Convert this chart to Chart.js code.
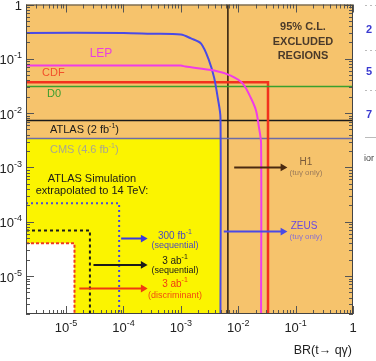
<!DOCTYPE html>
<html lang="en">
<head>
<meta charset="UTF-8">
<title>BR(t→qγ) limits</title>
<script src="https://cdn.jsdelivr.net/npm/chart.js@4.4.0/dist/chart.umd.js"></script>
<style>
  html, body { margin: 0; padding: 0; background: #fff; }
  #wrap { position: relative; width: 376px; height: 361px; }
</style>
</head>
<body>
<div id="wrap"><canvas id="limitChart"></canvas></div>
<script>
// axis ranges and labelled decades
const xRange = [2e-6, 1];
const yRange = [2e-6, 1];
const xDecades = [-5, -4, -3, -2, -1, 0];
const yDecades = [-5, -4, -3, -2, -1, 0];

// existing 95% CL limits, [BR(t->qgamma) x, y]
const lepBlue = [[2e-6, 0.30], [1e-4, 0.30], [3e-4, 0.29], [1e-3, 0.28], [1.5e-3, 0.237], [2.25e-3, 0.19],
                 [3.1e-3, 0.093], [3.8e-3, 0.045], [4.4e-3, 0.019], [4.9e-3, 0.0083], [4.9e-3, 2e-6]];
const lepMagenta = [[2e-6, 0.075], [1e-3, 0.075], [1.2e-3, 0.072], [3.8e-3, 0.061], [7.4e-3, 0.049], [0.012, 0.035],
                    [0.0166, 0.019], [0.0204, 0.0112], [0.023, 0.0054], [0.025, 0.0028], [0.025, 2e-6]];
const cdf = [[2e-6, 0.037], [0.033, 0.037], [0.033, 2e-6]];
const d0 = [[2e-6, 0.031], [1, 0.031]];
const atlas2fb = [[2e-6, 0.0073], [1, 0.0073]];
const cms46fb = [[2e-6, 0.0034], [1, 0.0034]];
const hera = [[0.0066, 2e-6], [0.0066, 1]];

// still allowed region (yellow) and 14 TeV projections
const allowed = [[2e-6, 0.0034], [4.9e-3, 0.0034], [4.9e-3, 2e-6]];
const proj300fbSeq = [[2e-6, 2.2e-4], [8.4e-5, 2.2e-4], [8.4e-5, 2e-6]];
const proj3abSeq = [[2e-6, 6.9e-5], [2.6e-5, 6.9e-5], [2.6e-5, 2e-6]];
const proj3abDisc = [[2e-6, 4.0e-5], [1.4e-5, 4.0e-5], [1.4e-5, 2e-6]];

// arrows
const arrowH1 = [[8.5e-3, 1e-3], [0.06, 1e-3]];
const arrowZeus = [[5.6e-3, 6.6e-5], [0.06, 6.6e-5]];
const arrow300fb = [[9.1e-5, 4.9e-5], [2.2e-4, 4.9e-5]];
const arrow3abSeq = [[3.0e-5, 1.6e-5], [2.2e-4, 1.6e-5]];
const arrow3abDisc = [[1.7e-5, 5.9e-6], [2.2e-4, 5.9e-6]];

const pts = arr => arr.map(p => ({ x: p[0], y: p[1] }));

function line(data, color, width, extra) {
    return Object.assign({
        data: pts(data), showLine: true, borderColor: color, borderWidth: width,
        pointRadius: 0, fill: false, tension: 0
    }, extra || {});
}

function arrow(data, color) {
    return line(data, color, 2, {
        pointRadius: [0, 4.5], pointStyle: 'triangle', rotation: 90,
        pointBackgroundColor: color, pointBorderColor: color, pointBorderWidth: 0, order: 1
    });
}

const FONT = '"Liberation Sans", Arial, sans-serif';

// text with optional superscript parts
function rich(ctx, parts, x, y, opt) {
    const size = opt.size, weight = opt.weight || '';
    const big = `${weight} ${size}px ${FONT}`;
    const small = `${weight} ${Math.round(size * 0.68)}px ${FONT}`;
    ctx.textBaseline = 'middle';
    ctx.textAlign = 'left';
    ctx.fillStyle = opt.color;
    let w = 0;
    parts.forEach(p => { ctx.font = p[1] ? small : big; w += ctx.measureText(p[0]).width; });
    let cx = opt.align === 'center' ? x - w / 2 : opt.align === 'right' ? x - w : x;
    parts.forEach(p => {
        ctx.font = p[1] ? small : big;
        ctx.fillText(p[0], cx, p[1] ? y - size * 0.38 : y);
        cx += ctx.measureText(p[0]).width;
    });
}

const notes = [
    { parts: [['LEP']], x: 101, y: 54, size: 12, color: '#e940df', align: 'center' },
    { parts: [['CDF']], x: 42, y: 73, size: 11, color: '#f2502a' },
    { parts: [['D0']], x: 47, y: 94, size: 11, color: '#3a9e2e' },
    { parts: [['ATLAS (2 fb'], ['-1', 1], [')']], x: 50, y: 130, size: 11, color: '#1a1a1a' },
    { parts: [['CMS (4.6 fb'], ['-1', 1], [')']], x: 50, y: 150, size: 11, color: '#a9a78e' },
    { parts: [['ATLAS Simulation']], x: 92, y: 179, size: 11, color: '#1a1a1a', align: 'center' },
    { parts: [['extrapolated to 14 TeV:']], x: 92, y: 191, size: 11, color: '#1a1a1a', align: 'center' },
    { parts: [['95% C.L.']], x: 303, y: 27, size: 11, color: '#4a3a2a', align: 'center', weight: 'bold' },
    { parts: [['EXCLUDED']], x: 303, y: 42, size: 11, color: '#4a3a2a', align: 'center', weight: 'bold' },
    { parts: [['REGIONS']], x: 303, y: 56, size: 11, color: '#4a3a2a', align: 'center', weight: 'bold' },
    { parts: [['H1']], x: 306, y: 162, size: 10, color: '#7a5a3a', align: 'center' },
    { parts: [['(tuγ only)']], x: 306, y: 173, size: 8, color: '#9a7a5a', align: 'center' },
    { parts: [['ZEUS']], x: 304, y: 226, size: 10, color: '#6a4ae0', align: 'center' },
    { parts: [['(tuγ only)']], x: 306, y: 237, size: 8, color: '#8a70d0', align: 'center' },
    { parts: [['300 fb'], ['-1', 1]], x: 175, y: 236, size: 10, color: '#4a4ac0', align: 'center' },
    { parts: [['(sequential)']], x: 175, y: 246, size: 9, color: '#4a4ac0', align: 'center' },
    { parts: [['3 ab'], ['-1', 1]], x: 175, y: 261, size: 10, color: '#1a1a1a', align: 'center' },
    { parts: [['(sequential)']], x: 175, y: 271, size: 9, color: '#1a1a1a', align: 'center' },
    { parts: [['3 ab'], ['-1', 1]], x: 175, y: 284, size: 10, color: '#f03a10', align: 'center' },
    { parts: [['(discriminant)']], x: 175, y: 296, size: 9, color: '#f04a10', align: 'center' },
    { parts: [['BR(t→ qγ)']], x: 352, y: 351, size: 12.5, color: '#222', align: 'right' }
];

const framePlugin = {
    id: 'frame',
    beforeDraw(chart) {
        const { ctx, chartArea: a } = chart;
        ctx.save();
        ctx.fillStyle = '#f6c36c';
        ctx.fillRect(a.left, a.top, a.right - a.left, a.bottom - a.top);
        ctx.restore();
    },
    afterDatasetsDraw(chart) {
        const { ctx, chartArea: a, scales } = chart;
        const xs = scales.x, ys = scales.y;
        ctx.save();
        ctx.strokeStyle = '#555';
        ctx.lineWidth = 1;
        // ticks on all four sides, inside the frame
        for (let e = -6; e <= 0; e++) {
            for (let m = 1; m <= 9; m++) {
                const v = m * Math.pow(10, e);
                const len = m === 1 ? 8 : 4;
                if (v >= xRange[0] && v <= xRange[1]) {
                    const px = Math.round(xs.getPixelForValue(v)) + 0.5;
                    ctx.beginPath();
                    ctx.moveTo(px, a.bottom); ctx.lineTo(px, a.bottom - len);
                    ctx.moveTo(px, a.top); ctx.lineTo(px, a.top + len);
                    ctx.stroke();
                }
                if (v >= yRange[0] && v <= yRange[1]) {
                    const py = Math.round(ys.getPixelForValue(v)) + 0.5;
                    ctx.beginPath();
                    ctx.moveTo(a.left, py); ctx.lineTo(a.left + len, py);
                    ctx.moveTo(a.right, py); ctx.lineTo(a.right - len, py);
                    ctx.stroke();
                }
            }
        }
        ctx.strokeStyle = '#444';
        ctx.strokeRect(a.left + 0.5, a.top + 0.5, a.right - a.left - 1, a.bottom - a.top - 1);

        // tick labels
        xDecades.forEach(e => {
            const px = xs.getPixelForValue(Math.pow(10, e));
            const parts = e === 0 ? [['1']] : [['10'], [String(e), 1]];
            rich(ctx, parts, px, 328, { size: 13, color: '#222', align: 'center' });
        });
        yDecades.forEach(e => {
            const py = ys.getPixelForValue(Math.pow(10, e));
            const parts = e === 0 ? [['1']] : [['10'], [String(e), 1]];
            rich(ctx, parts, 22, py + 2, { size: 13, color: '#222', align: 'right' });
        });

        notes.forEach(n => rich(ctx, n.parts, n.x, n.y, n));

        // edge of the neighbouring panel, cut off on the right
        rich(ctx, [['2']], 366, 30, { size: 11, color: '#3a3ad0', weight: 'bold' });
        rich(ctx, [['5']], 366, 72, { size: 11, color: '#3a3ad0', weight: 'bold' });
        rich(ctx, [['7']], 366, 115, { size: 11, color: '#3a3ad0', weight: 'bold' });
        rich(ctx, [['ior']], 364, 159, { size: 9, color: '#444' });
        ctx.strokeStyle = '#bbb';
        ctx.beginPath(); ctx.moveTo(365, 137.5); ctx.lineTo(376, 137.5); ctx.stroke();
        ctx.setLineDash([2, 3]);
        [5, 50, 90].forEach(y => { ctx.beginPath(); ctx.moveTo(365, y + 0.5); ctx.lineTo(376, y + 0.5); ctx.stroke(); });
        ctx.restore();
    }
};

new Chart(document.getElementById('limitChart'), {
    type: 'scatter',
    data: {
        datasets: [
            line(allowed, 'rgba(0,0,0,0)', 0, { fill: 'start', backgroundColor: '#fbf400', order: 20 }),
            line(proj3abDisc, '#f03a20', 2, { fill: 'start', backgroundColor: '#ffffff', borderDash: [3, 2], order: 19 }),
            line(proj3abSeq, '#1a1a1a', 2, { borderDash: [3, 3], order: 5 }),
            line(proj300fbSeq, '#4a4ad8', 2, { borderDash: [2, 3], order: 5 }),
            line(cms46fb, '#6c6ca8', 1.5, { order: 4 }),
            line(atlas2fb, '#1a1a1a', 1.5, { order: 4 }),
            line(hera, '#2a1a0a', 1.5, { order: 4 }),
            line(d0, '#3aa02e', 1.5, { order: 3 }),
            line(cdf, '#f2321e', 2.5, { order: 3 }),
            line(lepMagenta, '#f03ce8', 2, { tension: 0.3, order: 2 }),
            line(lepBlue, '#4a4ae6', 2, { tension: 0.3, order: 2 }),
            arrow(arrowH1, '#4a2a10'),
            arrow(arrowZeus, '#4a4ae6'),
            arrow(arrow300fb, '#3a3ae0'),
            arrow(arrow3abSeq, '#1a1a1a'),
            arrow(arrow3abDisc, '#f03a10')
        ]
    },
    options: {
        responsive: true,
        maintainAspectRatio: false,
        animation: false,
        layout: { padding: { left: 26, right: 23, top: 4, bottom: 47 } },
        scales: {
            x: { type: 'logarithmic', min: xRange[0], max: xRange[1], display: false },
            y: { type: 'logarithmic', min: yRange[0], max: yRange[1], display: false }
        },
        plugins: {
            legend: { display: false },
            tooltip: { enabled: false }
        }
    },
    plugins: [framePlugin]
});
</script>
</body>
</html>
